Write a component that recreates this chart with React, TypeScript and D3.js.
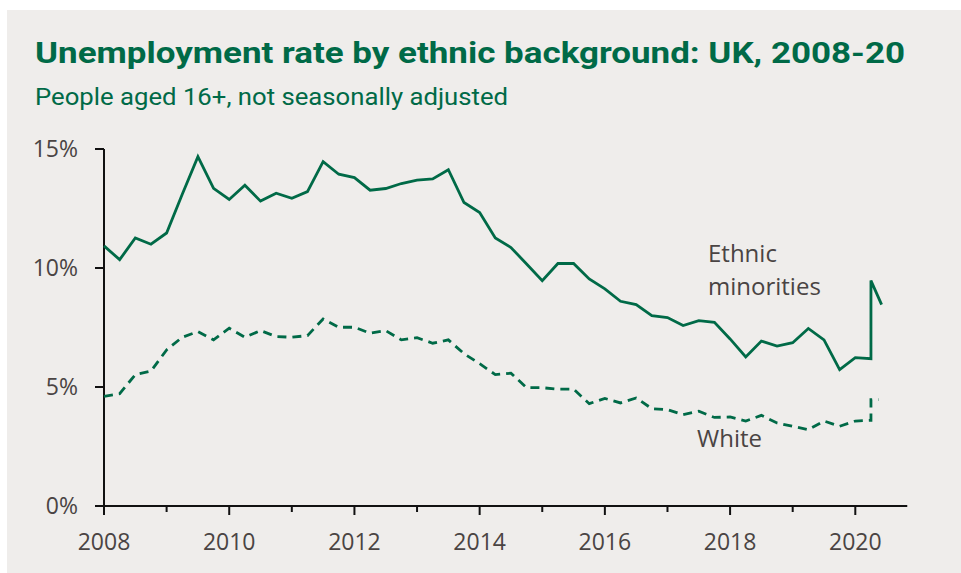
import React from "react";
import * as d3 from "d3";

const minorityDates = [
  2008, 2008.25, 2008.5, 2008.75,
  2009, 2009.25, 2009.5, 2009.75,
  2010, 2010.25, 2010.5, 2010.75,
  2011, 2011.25, 2011.5, 2011.75,
  2012, 2012.25, 2012.5, 2012.75,
  2013, 2013.25, 2013.5, 2013.75,
  2014, 2014.25, 2014.5, 2014.75,
  2015, 2015.25, 2015.5, 2015.75,
  2016, 2016.25, 2016.5, 2016.75,
  2017, 2017.25, 2017.5, 2017.75,
  2018, 2018.25, 2018.5, 2018.75,
  2019, 2019.25, 2019.5, 2019.75,
  2020, 2020.25, 2020.25, 2020.42,
];
const minorityValues = [
  10.93, 10.35, 11.26, 11.0,
  11.47, 13.1, 14.68, 13.35,
  12.88, 13.48, 12.81, 13.14,
  12.93, 13.21, 14.47, 13.94,
  13.8, 13.27, 13.34, 13.55,
  13.69, 13.74, 14.13, 12.75,
  12.33, 11.26, 10.86, 10.17,
  9.47, 10.19, 10.19, 9.54,
  9.12, 8.6, 8.46, 8.0,
  7.92, 7.58, 7.79, 7.72,
  7.02, 6.26, 6.93, 6.72,
  6.86, 7.46, 6.98, 5.73,
  6.23, 6.19, 9.47, 8.46,
];
const whiteDates = [
  2008, 2008.25, 2008.5, 2008.75,
  2009, 2009.25, 2009.5, 2009.75,
  2010, 2010.25, 2010.5, 2010.75,
  2011, 2011.25, 2011.5, 2011.75,
  2012, 2012.25, 2012.5, 2012.75,
  2013, 2013.25, 2013.5, 2013.75,
  2014, 2014.25, 2014.5, 2014.75,
  2015, 2015.25, 2015.5, 2015.75,
  2016, 2016.25, 2016.5, 2016.75,
  2017, 2017.25, 2017.5, 2017.75,
  2018, 2018.25, 2018.5, 2018.75,
  2019, 2019.25, 2019.5, 2019.75,
  2020, 2020.25, 2020.25, 2020.37,
];
const whiteValues = [
  4.61, 4.72, 5.52, 5.67,
  6.56, 7.09, 7.33, 6.98,
  7.47, 7.09, 7.37, 7.12,
  7.09, 7.16, 7.86, 7.51,
  7.51, 7.26, 7.37, 6.98,
  7.07, 6.84, 6.98, 6.4,
  5.98, 5.52, 5.58, 4.97,
  4.97, 4.91, 4.91, 4.3,
  4.52, 4.33, 4.54, 4.09,
  4.05, 3.84, 3.98, 3.72,
  3.74, 3.57, 3.81, 3.49,
  3.35, 3.21, 3.57, 3.35,
  3.57, 3.6, 4.47, 4.47,
];
const yTicks = [0, 5, 10, 15];
const xMajorTicks = [2008, 2010, 2012, 2014, 2016, 2018, 2020];
const xMinorTicks = [2009, 2011, 2013, 2015, 2017, 2019];

const GREEN = "#006a47";
const TEXT = "#4a4443";
const BG = "#efedeb";

export default function App() {
  const width = 961;
  const height = 573;
  const x = d3.scaleLinear().domain([2008, 2020]).range([104, 855.3]);
  const y = d3.scaleLinear().domain([0, 15]).range([506, 149]);
  const axisEnd = x(2020.83);

  const line = d3
    .line<[number, number]>()
    .x((d) => x(d[0]))
    .y((d) => y(d[1]))
    .curve(d3.curveLinear);

  const minority = minorityDates.map((d, i) => [d, minorityValues[i]] as [number, number]);
  const white = whiteDates.map((d, i) => [d, whiteValues[i]] as [number, number]);

  return (
    <svg
      width={width}
      height={height}
      style={{ position: "absolute", left: 0, top: 0, display: "block" }}
    >
      <rect x={0} y={0} width={width} height={height} fill="#ffffff" />
      <rect x={7} y={10} width={width - 7} height={height - 10} fill={BG} />
      <text
        x={35}
        y={63}
        fill={GREEN}
        fontFamily="Roboto, sans-serif"
        fontWeight={700}
        fontSize={30}
        textLength={870}
        lengthAdjust="spacingAndGlyphs"
      >
        Unemployment rate by ethnic background: UK, 2008-20
      </text>
      <text
        x={35}
        y={105}
        fill={GREEN}
        fontFamily="Roboto, sans-serif"
        fontWeight={400}
        fontSize={23}
        textLength={473}
        lengthAdjust="spacingAndGlyphs"
      >
        People aged 16+, not seasonally adjusted
      </text>

      {/* y axis */}
      <line x1={x(2008)} x2={x(2008)} y1={y(15)} y2={y(0)} stroke="#111" strokeWidth={2} />
      {yTicks.map((t) => (
        <g key={"y" + t}>
          <line x1={x(2008) - 9} x2={x(2008)} y1={y(t)} y2={y(t)} stroke="#111" strokeWidth={2} />
          <text
            x={78}
            y={y(t) + 7.5}
            textAnchor="end"
            fill={TEXT}
            fontFamily="'Open Sans', sans-serif"
            fontSize={23}
          >
            {t + "%"}
          </text>
        </g>
      ))}

      {/* x axis */}
      <line x1={x(2008) - 9} x2={axisEnd} y1={y(0)} y2={y(0)} stroke="#111" strokeWidth={2} />
      {xMajorTicks.map((t) => (
        <g key={"x" + t}>
          <line x1={x(t)} x2={x(t)} y1={y(0)} y2={y(0) + 9} stroke="#111" strokeWidth={2} />
          <text
            x={x(t)}
            y={550}
            textAnchor="middle"
            fill={TEXT}
            fontFamily="'Open Sans', sans-serif"
            fontSize={23}
          >
            {t}
          </text>
        </g>
      ))}
      {xMinorTicks.map((t) => (
        <line key={"m" + t} x1={x(t)} x2={x(t)} y1={y(0)} y2={y(0) + 6} stroke="#111" strokeWidth={2} />
      ))}

      <path d={line(white) || ""} fill="none" stroke={GREEN} strokeWidth={2.8} strokeDasharray="9,6" />
      <path d={line(minority) || ""} fill="none" stroke={GREEN} strokeWidth={2.8} strokeLinejoin="miter" />

      <text fill={TEXT} fontFamily="'Open Sans', sans-serif" fontSize={24}>
        <tspan x={708} y={262}>Ethnic</tspan>
        <tspan x={708} y={295}>minorities</tspan>
      </text>
      <text x={697} y={447} fill={TEXT} fontFamily="'Open Sans', sans-serif" fontSize={24}>
        White
      </text>
    </svg>
  );
}
